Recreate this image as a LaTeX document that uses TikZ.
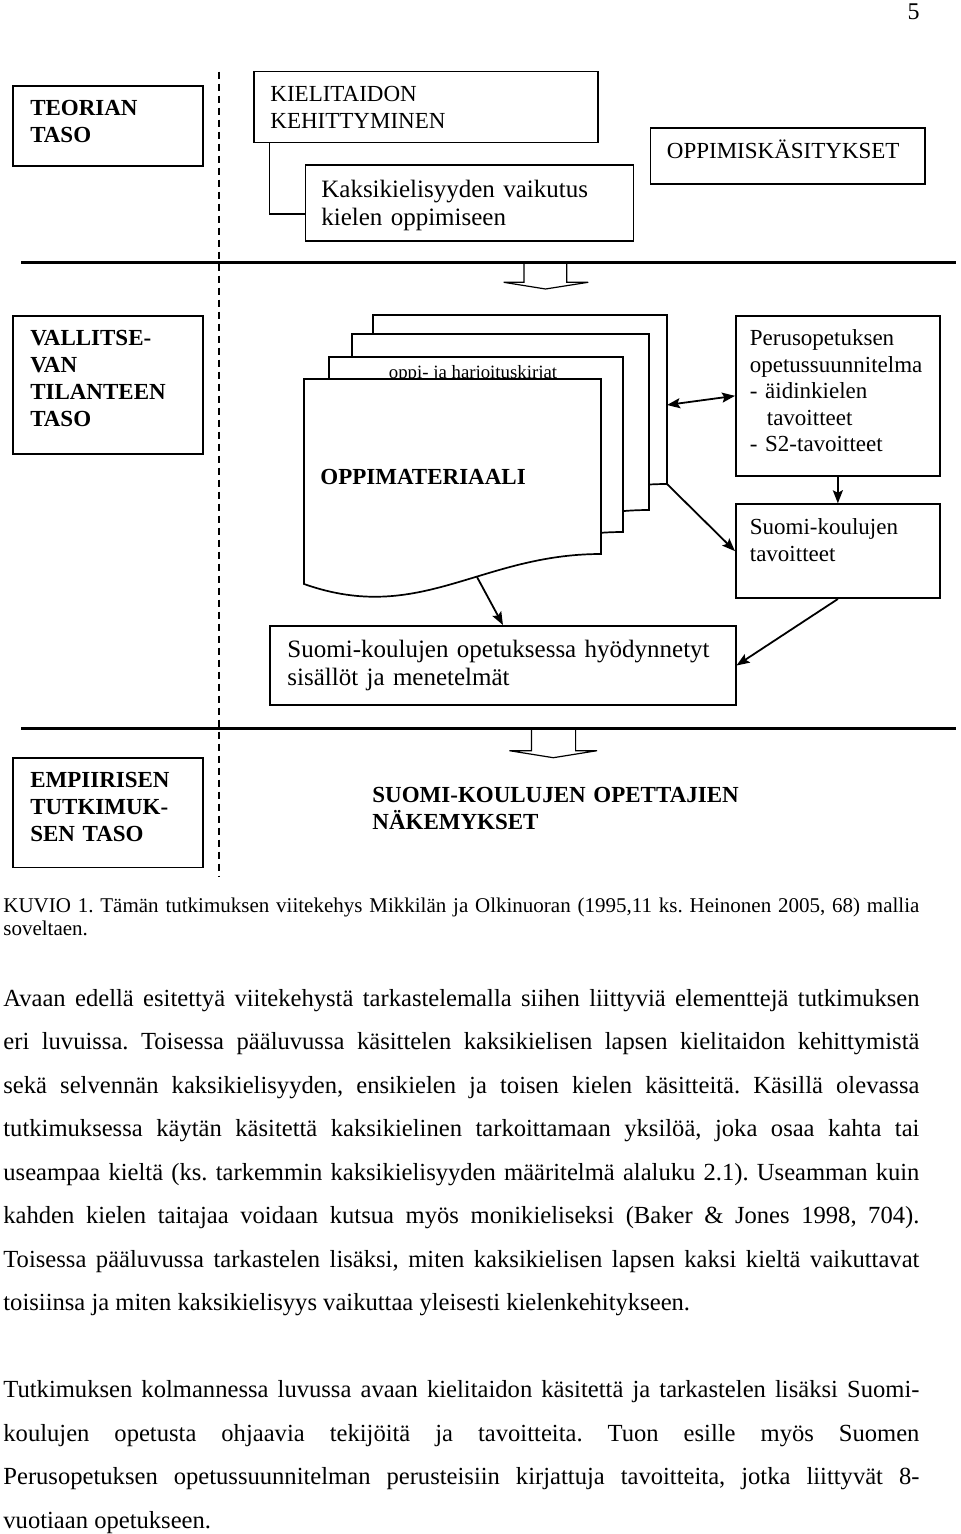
\documentclass[tikz,border=0pt]{standalone}
\usepackage{fontspec}
\setmainfont{Liberation Serif}
\usetikzlibrary{arrows.meta}
\frenchspacing

\begin{document}
\begin{tikzpicture}[x=0.5pt, y=-0.5pt,
    levelbox/.style={draw, line width=0.85pt, anchor=north west, align=left,
      inner xsep=8.7pt, text width=77.6pt, text height=7.6pt,
      font=\fontsize{11.5}{13.5}\selectfont\bfseries},
    topicbox/.style={draw, line width=0.85pt, anchor=north west, align=left,
      inner xsep=8.3pt, font=\fontsize{11.5}{13.5}\selectfont},
    sheet/.style={draw, line width=0.85pt, fill=white},
    tree/.style={line width=0.85pt},
    link/.style={line width=0.9pt, -{Stealth[length=6.5pt, width=5pt, inset=1.2pt]}},
    twolink/.style={line width=0.9pt,
      {Stealth[length=6.5pt, width=5pt, inset=1.2pt]}-{Stealth[length=6.5pt, width=5pt, inset=1.2pt]}},
    blockarrow/.style={draw, line width=0.6pt, fill=white},
    levelrule/.style={line width=1.5pt},
    divider/.style={line width=0.65pt, dash pattern=on 3.8pt off 2.2pt},
    bodytext/.style={anchor=base west, inner sep=0pt, text width=458pt, align=justify,
      execute at begin node={\tolerance=9999\hyphenpenalty=10000\relax}}
  ]
  \useasboundingbox (0,0) rectangle (960,1534);

  % Page number
  \node[anchor=base east, inner sep=0pt, font=\fontsize{12}{14}\selectfont] (pagenum) at (920,20) {5};

  % Levels (left column)
  \node[levelbox, minimum height=40pt, text depth=17.6pt] (theory) at (12,85) {TEORIAN\\TASO};
  \node[levelbox, minimum height=69pt, text depth=46.6pt] (current) at (12,315) {VALLITSE-\\VAN\\TILANTEEN\\TASO};
  \node[levelbox, minimum height=54.7pt, text depth=32.6pt] (empirical) at (12,757.3) {EMPIIRISEN\\TUTKIMUK-\\SEN TASO};

  % Divider between levels and contents
  \draw[divider] (219,71.7) -- (219,876.7);

  % === Theory level ===
  \node[topicbox, text width=155.6pt, minimum height=35.5pt] (skill) at (253,70.7) {KIELITAIDON\\KEHITTYMINEN};
  \node[topicbox, inner xsep=8pt, text width=148pt, minimum height=37.85pt, text height=8.54pt, text depth=14.1pt,
    font=\fontsize{12.5}{14.2}\selectfont] (bilingual) at (304.5,164.3) {Kaksikielisyyden vaikutus\\kielen oppimiseen};
  \node[topicbox, text width=120.6pt, minimum height=28pt, text height=7.6pt, text depth=5pt] (learning) at (649.5,127.3) {OPPIMISKÄSITYKSET};
  \draw[tree] ([xshift=8.3pt]skill.south west) |- ([yshift=-5.5pt]bilingual.west);

  % Block arrows below the level rules
  \draw[blockarrow] (524,262) -- (524,282.3) -- (503.7,282.3) -- (545.5,289) -- (588.2,282.3) -- (566.8,282.3) -- (566.8,262);
  \draw[blockarrow] (531.5,728) -- (531.5,750.7) -- (509.5,750.7) -- (553.3,757.7) -- (597,750.7) -- (575.6,750.7) -- (575.6,728);

  % Level rules
  \draw[levelrule] (21,262.3) -- (956,262.3);
  \draw[levelrule] (21,728.3) -- (956,728.3);

  % === Current level: stack of teaching material (back to front) ===
  \draw[sheet] (373,315) -- (667,315) -- (667,484) .. controls (546,484) and (486,555) .. (373,514) -- cycle;
  \draw[sheet] (352,334) -- (649,334) -- (649,510) .. controls (528,510) and (468,581) .. (352,540) -- cycle;
  \draw[sheet] (329,357) -- (623,357) -- (623,532) .. controls (502,532) and (442,603) .. (329,562) -- cycle;
  \node[anchor=base, inner sep=0pt, font=\fontsize{9.4}{11}\selectfont] (books) at (473,378.5) {oppi- ja harjoituskirjat};
  \draw[sheet] (304,379) -- (601,379) -- (601,554) .. controls (480,554) and (420,625) .. (304,584) -- cycle;
  \node[anchor=base west, inner sep=0pt, font=\fontsize{11.5}{13.5}\selectfont\bfseries] (material) at (320,484) {OPPIMATERIAALI};
  \coordinate (stackside) at (667,405);
  \coordinate (stackcorner) at (667,484);
  \coordinate (stackwave) at (477,577);

  \node[topicbox, inner xsep=7pt, text width=88pt, minimum height=80pt, text height=7.85pt, text depth=57.85pt,
    font=\fontsize{11.5}{13.25}\selectfont] (curriculum) at (735,315)
    {Perusopetuksen\\opetussuunnitelma\\- äidinkielen\\\hspace*{8.5pt}tavoitteet\\- S2-tavoitteet};
  \node[topicbox, inner xsep=7pt, text width=88pt, minimum height=47pt, text height=7.85pt, text depth=24.5pt] (finngoals) at (735,503.3)
    {Suomi-koulujen\\tavoitteet};
  \node[topicbox, inner xsep=8.6pt, text width=215.5pt, minimum height=39.65pt, text height=8.54pt, text depth=16.5pt,
    font=\fontsize{12.5}{14.2}\selectfont] (contents) at (269.4,625)
    {Suomi-koulujen opetuksessa hyödynnetyt\\sisällöt ja menetelmät};

  \draw[twolink] (stackside) -- (curriculum.west);
  \draw[link] (stackcorner) -- (finngoals.west);
  \draw[link] (curriculum.south) -- (finngoals.north);
  \draw[link] (stackwave) -- (contents.north);
  \draw[link] (finngoals.south) -- (contents.east);

  % === Empirical level ===
  \node[anchor=base west, inner sep=0pt, text width=220pt, align=left,
    font=\fontsize{11.5}{13.5}\selectfont\bfseries] (views) at (372,802.5) {SUOMI-KOULUJEN OPETTAJIEN\\NÄKEMYKSET};

  % Caption and running text
  \node[bodytext, font=\fontsize{10.5}{11.75}\selectfont] (caption) at (3,912)
    {KUVIO 1. Tämän tutkimuksen viitekehys Mikkilän ja Olkinuoran (1995,11 ks. Heinonen 2005, 68) mallia \linebreak soveltaen.};
  \node[bodytext, font=\fontsize{12.3}{21.75}\selectfont] (bodyone) at (3,1006)
    {Avaan edellä esitettyä viitekehystä tarkastelemalla siihen liittyviä elementtejä tutkimuksen \linebreak
     eri luvuissa. Toisessa pääluvussa käsittelen kaksikielisen lapsen kielitaidon kehittymistä \linebreak
     sekä selvennän kaksikielisyyden, ensikielen ja toisen kielen käsitteitä. Käsillä olevassa \linebreak
     tutkimuksessa käytän käsitettä kaksikielinen tarkoittamaan yksilöä, joka osaa kahta tai \linebreak
     useampaa kieltä (ks. tarkemmin kaksikielisyyden määritelmä alaluku 2.1). Useamman kuin \linebreak
     kahden kielen taitajaa voidaan kutsua myös monikieliseksi (Baker \& Jones 1998, 704). \linebreak
     Toisessa pääluvussa tarkastelen lisäksi, miten kaksikielisen lapsen kaksi kieltä vaikuttavat \linebreak
     toisiinsa ja miten kaksikielisyys vaikuttaa yleisesti kielenkehitykseen.};
  \node[bodytext, font=\fontsize{12.3}{21.75}\selectfont] (bodytwo) at (3,1397.5)
    {Tutkimuksen kolmannessa luvussa avaan kielitaidon käsitettä ja tarkastelen lisäksi Suomi-\linebreak
     koulujen opetusta ohjaavia tekijöitä ja tavoitteita. Tuon esille myös Suomen \linebreak
     Perusopetuksen opetussuunnitelman perusteisiin kirjattuja tavoitteita, jotka liittyvät 8-\linebreak
     vuotiaan opetukseen.};

\end{tikzpicture}
\end{document}
